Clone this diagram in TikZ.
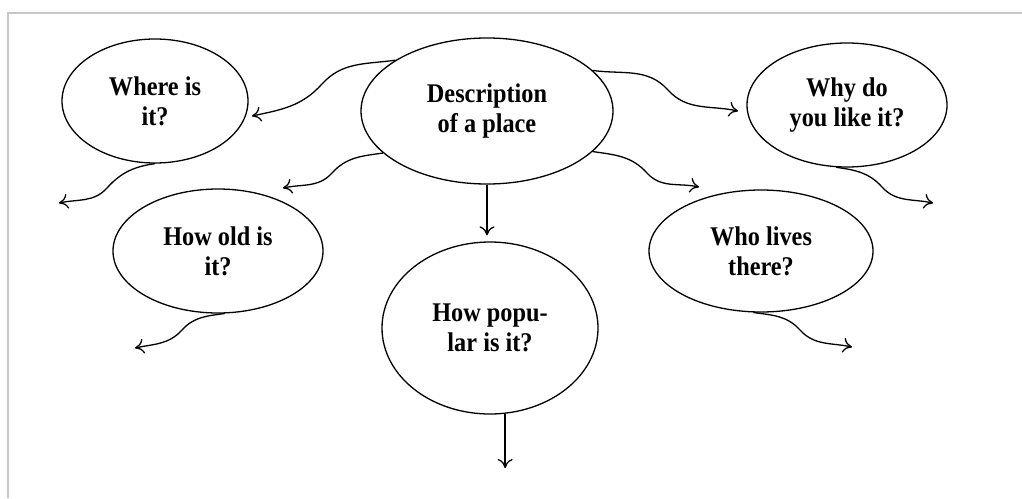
\documentclass[tikz,border=0pt]{standalone}
\usepackage{fontspec}
\setmainfont{Liberation Serif}
\newfontfamily\bubblefont[FakeStretch=0.9]{Liberation Serif}
\usetikzlibrary{arrows.meta,shapes.geometric}
\begin{document}
\begin{tikzpicture}[x=1pt,y=1pt,
    bubble/.style={draw, line width=1.3pt, ellipse, inner sep=0pt, align=center,
      font=\bubblefont\bfseries\fontsize{27}{30}\selectfont},
    link/.style={line width=1.3pt, -{Computer Modern Rightarrow[length=9pt,width=15pt]}}]
    \useasboundingbox (0,0) rectangle (1022,-498);
    \draw[line width=1.5pt, black!22] (1022,-13) -- (8,-13) -- (8,-498);

    % bubbles
    \node[bubble, minimum width=252, minimum height=146] (desc) at (487,-111) {Description\\of a place};
    \node[bubble, minimum width=186, minimum height=124] (where) at (155,-101) {Where is\\it?};
    \node[bubble, minimum width=200, minimum height=124] (why) at (847,-105) {Why do\\you like it?};
    \node[bubble, minimum width=210, minimum height=124] (old) at (218,-251) {How old is\\it?};
    \node[bubble, minimum width=224, minimum height=122] (lives) at (761,-251) {Who lives\\there?};
    \node[bubble, minimum width=216, minimum height=172] (popular) at (490,-328) {How popu-\\lar is it?};

    % arrow tips
    \coordinate (wheretip) at (252,-116);
    \coordinate (oldtip) at (283,-188);
    \coordinate (whytip) at (738,-111);
    \coordinate (livestip) at (699,-187);
    \coordinate (leftA) at (59,-203);
    \coordinate (leftB) at (135,-348);
    \coordinate (rightA) at (933,-203);
    \coordinate (rightB) at (852,-347);
    \coordinate (poptip) at (504,-468);

    % wavy links
    \draw[link] (desc.151) to[out=188,in=48] (322,-84) to[out=228,in=12] (wheretip);
    \draw[link] (desc.202) to[out=188,in=48] (332,-173) to[out=228,in=12] (oldtip);
    \draw[link] (where.south) to[out=188,in=48] (107,-188) to[out=228,in=12] (leftA);
    \draw[link] (old.-84) to[out=188,in=48] (182,-330) to[out=228,in=12] (leftB);
    \draw[link] (desc.21) to[out=-8,in=132] (668,-90) to[out=-48,in=168] (whytip);
    \draw[link] (desc.-21) to[out=-8,in=132] (647,-173) to[out=-48,in=168] (livestip);
    \draw[link] (why.-100) to[out=-8,in=132] (882,-187) to[out=-48,in=168] (rightA);
    \draw[link] (lives.-97) to[out=-8,in=132] (800,-330) to[out=-48,in=168] (rightB);

    % straight links
    \draw[link, shorten >=6pt] (desc.south) -- (desc.south |- popular.north);
    \draw[link] (popular.-80) -- (popular.-80 |- poptip);
\end{tikzpicture}
\end{document}
